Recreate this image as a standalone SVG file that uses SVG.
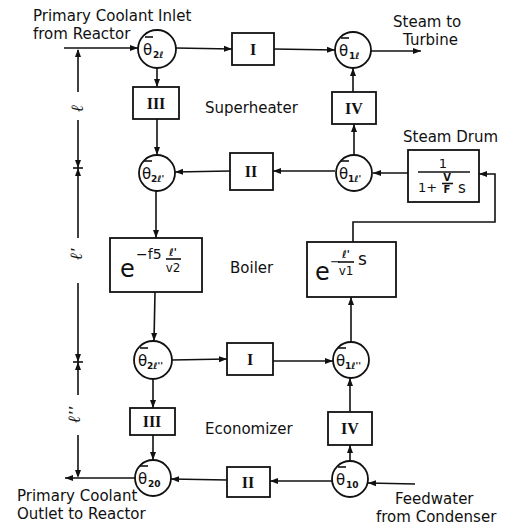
<svg xmlns="http://www.w3.org/2000/svg" width="512" height="526" viewBox="0 0 512 526">
<defs>
<marker id="ah" markerWidth="9" markerHeight="7" refX="8" refY="3.5" orient="auto" markerUnits="userSpaceOnUse">
<path d="M0,0.5 L8,3.5 L0,6.5 Z" fill="#111"/>
</marker>
</defs>
<style>
.ln{stroke:#111;stroke-width:1.6;fill:none}
.cn{stroke:#111;stroke-width:1.6;fill:none;marker-end:url(#ah)}
.bx{stroke:#111;stroke-width:1.8;fill:#fff}
.cc{stroke:#111;stroke-width:1.8;fill:#fff}
.lbl{font-family:"DejaVu Sans",sans-serif;font-size:15px;fill:#111}
.rom{font-family:"Liberation Serif",serif;font-weight:bold;font-size:16px;fill:#111;text-anchor:middle}
.th{font-family:"DejaVu Sans",sans-serif;font-size:15px;fill:#111}
.sb{font-family:"DejaVu Sans",sans-serif;font-size:9px;font-weight:bold;fill:#111}
.mt{font-family:"DejaVu Sans",sans-serif;fill:#111}
.dim{font-family:"Liberation Serif",serif;font-style:italic;font-weight:bold;font-size:17px;fill:#111}
</style>
<rect width="512" height="526" fill="#fff"/>

<g id="labels">
<text class="lbl" x="33" y="21">Primary Coolant Inlet</text>
<text class="lbl" x="33" y="39">from Reactor</text>
<text class="lbl" x="393" y="27">Steam to</text>
<text class="lbl" x="403" y="45">Turbine</text>
<text class="lbl" x="205" y="113">Superheater</text>
<text class="lbl" x="403" y="142">Steam Drum</text>
<text class="lbl" x="230" y="273">Boiler</text>
<text class="lbl" x="205" y="434">Economizer</text>
<text class="lbl" x="17" y="501">Primary Coolant</text>
<text class="lbl" x="17" y="519">Outlet to Reactor</text>
<text class="lbl" x="395" y="504">Feedwater</text>
<text class="lbl" x="376" y="522">from Condenser</text>
</g>

<g id="dimension">
<line class="ln" x1="78" y1="50" x2="78" y2="92"/>
<line class="ln" x1="78" y1="120" x2="78" y2="238"/>
<line class="ln" x1="78" y1="283" x2="78" y2="395"/>
<line class="ln" x1="78" y1="435" x2="78" y2="476"/>
<line class="ln" x1="73" y1="168" x2="83" y2="168"/>
<line class="ln" x1="73" y1="362" x2="83" y2="362"/>
<path d="M78,49 L75,57 L81,57 Z M78,168 L75,160 L81,160 Z M78,168 L75,176 L81,176 Z M78,362 L75,354 L81,354 Z M78,362 L75,370 L81,370 Z M78,478 L75,470 L81,470 Z" fill="#111"/>
<text class="dim" transform="translate(83,112) rotate(-90)">ℓ</text>
<text class="dim" transform="translate(82,260) rotate(-90)">ℓ'</text>
<text class="dim" transform="translate(80,423) rotate(-90)">ℓ''</text>
</g>

<g id="connectors">
<line class="cn" x1="64" y1="48" x2="138" y2="48"/>
<line class="cn" x1="176" y1="48" x2="232" y2="49"/>
<line class="cn" x1="274" y1="49" x2="335" y2="50"/>
<line class="cn" x1="371" y1="51" x2="421" y2="51"/>
<line class="cn" x1="157" y1="67" x2="157" y2="87"/>
<line class="cn" x1="157" y1="119" x2="157" y2="155"/>
<line class="cn" x1="353" y1="92" x2="353" y2="68"/>
<line class="cn" x1="354" y1="154" x2="354" y2="124"/>
<line class="cn" x1="335" y1="171" x2="273" y2="171"/>
<line class="cn" x1="230" y1="171" x2="175" y2="172"/>
<line class="cn" x1="408" y1="173" x2="373" y2="173"/>
<path class="cn" d="M353,242 V222 H495 V174 H479"/>
<line class="cn" x1="156" y1="191" x2="156" y2="238"/>
<line class="cn" x1="155" y1="292" x2="154" y2="341"/>
<line class="cn" x1="351" y1="342" x2="351" y2="297"/>
<line class="cn" x1="172" y1="360" x2="227" y2="359"/>
<line class="cn" x1="273" y1="361" x2="333" y2="361"/>
<line class="cn" x1="153" y1="379" x2="153" y2="408"/>
<line class="cn" x1="153" y1="435" x2="153" y2="460"/>
<line class="cn" x1="350" y1="412" x2="350" y2="378"/>
<line class="cn" x1="350" y1="461" x2="350" y2="445"/>
<line class="cn" x1="332" y1="481" x2="270" y2="481"/>
<line class="cn" x1="227" y1="480" x2="171" y2="479"/>
<line class="cn" x1="135" y1="478" x2="65" y2="478"/>
<line class="cn" x1="415" y1="484" x2="368" y2="483"/>
</g>

<g id="n-t2l">
<circle class="cc" cx="157" cy="49" r="19"/>
<line class="ln" x1="145" y1="37" x2="153" y2="37" stroke-width="1"/>
<text class="th" x="143" y="55">θ</text><text class="sb" x="153" y="58">2ℓ</text>
</g>
<g id="n-t1l">
<circle class="cc" cx="353" cy="50" r="18"/>
<line class="ln" x1="341" y1="38" x2="349" y2="38" stroke-width="1"/>
<text class="th" x="339" y="56">θ</text><text class="sb" x="349" y="59">1ℓ</text>
</g>
<g id="n-t2lp">
<circle class="cc" cx="157" cy="173" r="18"/>
<line class="ln" x1="144" y1="161" x2="152" y2="161" stroke-width="1"/>
<text class="th" x="142" y="179">θ</text><text class="sb" x="151" y="182">2ℓ'</text>
</g>
<g id="n-t1lp">
<circle class="cc" cx="354" cy="173" r="18"/>
<line class="ln" x1="341" y1="161" x2="349" y2="161" stroke-width="1"/>
<text class="th" x="339" y="179">θ</text><text class="sb" x="348" y="182">1ℓ'</text>
</g>
<g id="n-t2lpp">
<circle class="cc" cx="153" cy="360" r="19"/>
<line class="ln" x1="140" y1="348" x2="148" y2="348" stroke-width="1"/>
<text class="th" x="138" y="366">θ</text><text class="sb" x="147" y="369">2ℓ''</text>
</g>
<g id="n-t1lpp">
<circle class="cc" cx="351" cy="360" r="18"/>
<line class="ln" x1="338" y1="348" x2="346" y2="348" stroke-width="1"/>
<text class="th" x="336" y="366">θ</text><text class="sb" x="345" y="369">1ℓ''</text>
</g>
<g id="n-t20">
<circle class="cc" cx="153" cy="478" r="18"/>
<line class="ln" x1="140" y1="466" x2="148" y2="466" stroke-width="1"/>
<text class="th" x="138" y="484">θ</text><text class="sb" x="148" y="487" font-size="11">20</text>
</g>
<g id="n-t10">
<circle class="cc" cx="350" cy="479" r="18"/>
<line class="ln" x1="338" y1="467" x2="346" y2="467" stroke-width="1"/>
<text class="th" x="336" y="485">θ</text><text class="sb" x="346" y="488">10</text>
</g>

<g id="b-I-top"><rect class="bx" x="232" y="33" width="42" height="32"/><text class="rom" x="253" y="55">I</text></g>
<g id="b-III-top"><rect class="bx" x="133" y="87" width="46" height="32"/><text class="rom" x="156" y="109">III</text></g>
<g id="b-IV-top"><rect class="bx" x="332" y="92" width="44" height="32"/><text class="rom" x="354" y="114">IV</text></g>
<g id="b-II-mid"><rect class="bx" x="230" y="153" width="43" height="37"/><text class="rom" x="251" y="177">II</text></g>
<g id="b-drum">
<rect class="bx" x="408" y="150" width="71" height="52"/>
<text class="mt" x="443" y="168" font-size="13" text-anchor="middle">1</text>
<line class="ln" x1="418" y1="172" x2="470" y2="172"/>
<text class="mt" x="418" y="192" font-size="13">1+</text>
<text class="mt" x="447" y="181" font-size="10" font-weight="bold" text-anchor="middle">V</text>
<line class="ln" x1="442" y1="183.5" x2="453" y2="183.5" stroke-width="1.2"/>
<text class="mt" x="447" y="193" font-size="10" font-weight="bold" text-anchor="middle">F</text>
<text class="mt" x="458" y="193" font-size="15">s</text>
</g>
<g id="b-boil-left">
<rect class="bx" x="110" y="238" width="92" height="54"/>
<text class="mt" x="120" y="277" font-size="24">e</text>
<text class="mt" x="136" y="259" font-size="14">−f5</text>
<text class="mt" x="173" y="256" font-size="10" font-style="italic" font-weight="bold" text-anchor="middle">ℓ'</text>
<line class="ln" x1="166" y1="259" x2="181" y2="259" stroke-width="1"/>
<text class="mt" x="173" y="272" font-size="12" text-anchor="middle">v2</text>
</g>
<g id="b-boil-right">
<rect class="bx" x="307" y="242" width="89" height="55"/>
<text class="mt" x="315" y="280" font-size="24">e</text>
<text class="mt" x="330" y="266" font-size="13">−</text>
<text class="mt" x="346" y="258" font-size="10" font-style="italic" font-weight="bold" text-anchor="middle">ℓ'</text>
<line class="ln" x1="338" y1="262" x2="354" y2="262" stroke-width="1"/>
<text class="mt" x="346" y="275" font-size="12" text-anchor="middle">v1</text>
<text class="mt" x="358" y="265" font-size="17">s</text>
</g>
<g id="b-I-low"><rect class="bx" x="227" y="343" width="46" height="32"/><text class="rom" x="250" y="365">I</text></g>
<g id="b-III-low"><rect class="bx" x="130" y="408" width="45" height="27"/><text class="rom" x="152" y="427">III</text></g>
<g id="b-IV-low"><rect class="bx" x="328" y="412" width="44" height="33"/><text class="rom" x="350" y="434">IV</text></g>
<g id="b-II-low"><rect class="bx" x="227" y="467" width="43" height="30"/><text class="rom" x="248" y="488">II</text></g>
</svg>
